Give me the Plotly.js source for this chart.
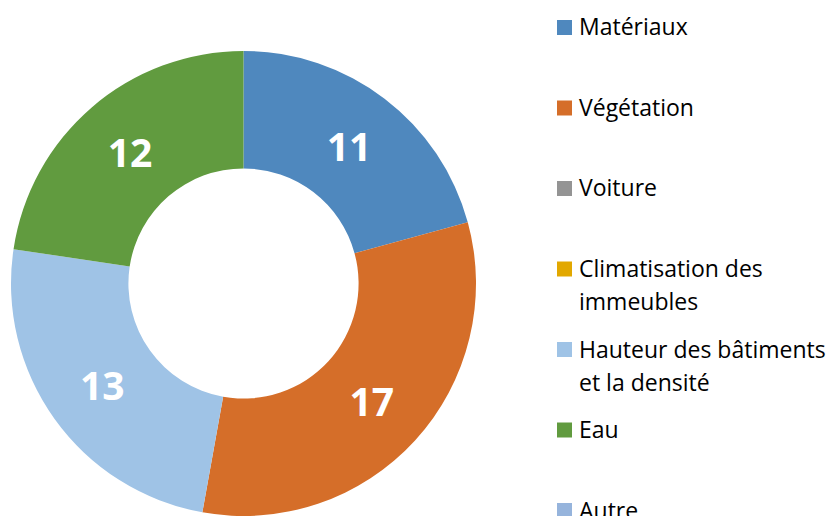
<!DOCTYPE html>
<html>
<head>
<meta charset="utf-8">
<script src="https://cdn.plot.ly/plotly-3.0.1.min.js"></script>
<style>html,body{margin:0;padding:0;background:#fff;}#chart{width:827px;height:516px;}</style>
</head>
<body>
<div id="chart"></div>
<script>
const categories = ["Matériaux", "Végétation", "Voiture", "Climatisation des immeubles", "Hauteur des bâtiments et la densité", "Eau", "Autre"];
const legendLines = [["Matériaux"], ["Végétation"], ["Voiture"], ["Climatisation des", "immeubles"], ["Hauteur des bâtiments", "et la densité"], ["Eau"], ["Autre"]];
const values = [11, 17, 0, 0, 13, 12, 0];
const colors = ["#4F88BE", "#D56E29", "#949494", "#E2A800", "#9FC3E6", "#619B3F", "#96B4DC"];

const W = 827, H = 516;
const mL = 11, mT = 51;
const plotW = W - mL, plotH = H - mT;

const trace = {
  type: "pie",
  labels: categories,
  values: values,
  text: values.map(v => v > 0 ? String(v) : ""),
  textinfo: "text",
  textposition: "inside",
  insidetextorientation: "horizontal",
  textfont: {family: "Open Sans", size: 39, color: "#ffffff", weight: "bold"},
  marker: {colors: colors, line: {width: 0}},
  hole: 0.495,
  sort: false,
  direction: "clockwise",
  rotation: 0,
  showlegend: false,
  hoverinfo: "none",
  domain: {x: [0, plotH / plotW], y: [0, 1]}
};

// Custom legend built from the category arrays
const shapes = [];
const annotations = [];
const legX = 557, sq = 15, textX = 577, y0 = 27.5, step = 80.5, lineGap = 33;
legendLines.forEach((lines, i) => {
  const cy = y0 + step * i;
  shapes.push({
    type: "rect", xref: "paper", yref: "paper",
    x0: (legX - mL) / plotW, x1: (legX + sq - mL) / plotW,
    y0: 1 - (cy + sq / 2 - mT) / plotH, y1: 1 - (cy - sq / 2 - mT) / plotH,
    fillcolor: colors[i], line: {width: 0}
  });
  lines.forEach((t, j) => {
    const ty = cy + j * lineGap - 1;
    annotations.push({
      xref: "paper", yref: "paper",
      x: (textX - mL) / plotW, y: 1 - (ty - mT) / plotH,
      xanchor: "left", yanchor: "middle",
      text: t, showarrow: false,
      font: {family: "Open Sans", size: 23, color: "#000000"}
    });
  });
});

const layout = {
  width: W, height: H,
  margin: {l: mL, r: 0, t: mT, b: 0, pad: 0},
  paper_bgcolor: "#ffffff",
  plot_bgcolor: "#ffffff",
  showlegend: false,
  shapes: shapes,
  annotations: annotations
};

Plotly.newPlot("chart", [trace], layout, {displayModeBar: false, staticPlot: true});
</script>
</body>
</html>
